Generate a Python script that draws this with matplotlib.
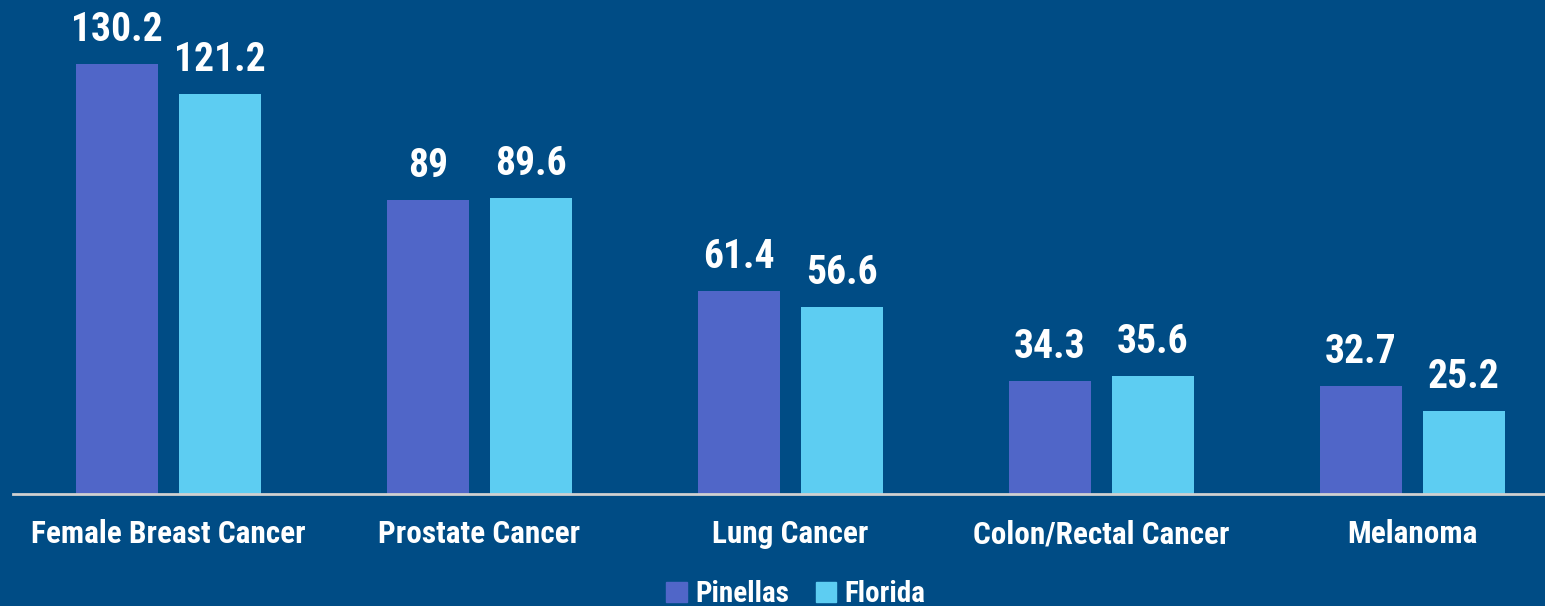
import numpy as np
import matplotlib.pyplot as plt
from matplotlib.patches import Patch

categories = ['Female Breast Cancer', 'Prostate Cancer', 'Lung Cancer',
              'Colon/Rectal Cancer', 'Melanoma']
pinellas = [130.2, 89, 61.4, 34.3, 32.7]
florida = [121.2, 89.6, 56.6, 35.6, 25.2]
labels_p = ['130.2', '89', '61.4', '34.3', '32.7']
labels_f = ['121.2', '89.6', '56.6', '35.6', '25.2']

bg = '#004c85'
c_pin = '#5066c8'
c_fla = '#5dcdf2'
fam = ['Roboto Condensed', 'DejaVu Sans']

fig = plt.figure(figsize=(15.45, 6.06), dpi=100, facecolor=bg)
ax = fig.add_axes([12.5/1545, 112/606, 1 - 12.5/1545, 494/606])
ax.set_facecolor(bg)

x = np.arange(len(categories))
w = 0.264
off = 0.1656
b1 = ax.bar(x - off, pinellas, w, color=c_pin)
b2 = ax.bar(x + off, florida, w, color=c_fla)

# value labels above bars
for bars, labs in ((b1, labels_p), (b2, labels_f)):
    for b, t in zip(bars, labs):
        ax.annotate(t, (b.get_x() + b.get_width()/2, b.get_height()),
                    xytext=(0, 15), textcoords='offset pixels',
                    ha='center', va='bottom', color='white',
                    fontsize=28.5, fontweight='bold', family=fam)

ax.set_xlim(-0.5016, 4.426)
ax.set_ylim(0, 149.6)
for s in ['top', 'right', 'left']:
    ax.spines[s].set_visible(False)
ax.spines['bottom'].set_color('#d0d0d0')
ax.spines['bottom'].set_linewidth(2)
ax.set_yticks([])
ax.set_xticks(x)
ax.set_xticklabels(categories, color='white', fontsize=22.5, fontweight='bold', family=fam)
ax.tick_params(axis='x', length=0, pad=18)

handles = [Patch(color=c_pin, label='Pinellas'), Patch(color=c_fla, label='Florida')]
leg = fig.legend(handles=handles, loc='center', bbox_to_anchor=(796/1545, 1 - 594/606),
                 ncol=2, frameon=False, handlelength=0.7, handleheight=0.7,
                 handletextpad=0.3, columnspacing=0.9,
                 prop={'family': fam, 'size': 21, 'weight': 'bold'})
for t in leg.get_texts():
    t.set_color('white')

fig.savefig('out.png', dpi=100, facecolor=bg)
